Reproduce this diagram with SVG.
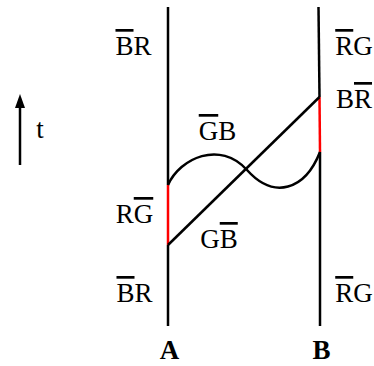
<svg xmlns="http://www.w3.org/2000/svg" width="374" height="366" viewBox="0 0 374 366">
<style>
.lbl{font-family:"Liberation Serif","DejaVu Serif",serif;font-size:27px;fill:#000;text-anchor:middle}
.bold{font-family:"Liberation Serif","DejaVu Serif",serif;font-size:27px;font-weight:bold;fill:#000;text-anchor:middle}
.ov{text-decoration:overline}
.wl{stroke:#000;stroke-width:2.5;fill:none}
.red{stroke:#ff0000;stroke-width:2.5;fill:none}
</style>
<rect width="374" height="366" fill="#fff"/>
<g id="connectors">
<line class="wl" x1="168" y1="7" x2="168" y2="185"/>
<line class="red" x1="168" y1="185" x2="168" y2="245"/>
<line class="wl" x1="168" y1="245" x2="168" y2="326"/>
<line class="wl" x1="318.5" y1="7" x2="319.5" y2="97"/>
<line class="red" x1="319.5" y1="97" x2="320" y2="152"/>
<line class="wl" x1="320" y1="152" x2="320" y2="326"/>
<line class="wl" x1="168" y1="245" x2="319.5" y2="97"/>
<path class="wl" d="M168,185 C180,158 220,140 247,170 C274,200 305,190 320,152"/>
<line x1="20" y1="165" x2="20" y2="106" stroke="#000" stroke-width="2.5"/>
<path d="M15,108 L20,94 L25,108 Z" fill="#000"/>
</g>
<g id="time"><text class="lbl" x="40" y="138">t</text></g>
<g id="A-top"><text class="lbl" x="133.5" y="55"><tspan class="ov">B</tspan>R</text></g>
<g id="B-top"><text class="lbl" x="354" y="55"><tspan class="ov">R</tspan>G</text></g>
<g id="GB-mid"><text class="lbl" x="217.5" y="140"><tspan class="ov">G</tspan>B</text></g>
<g id="GB-low"><text class="lbl" x="219" y="248">G<tspan class="ov">B</tspan></text></g>
<g id="RG-left"><text class="lbl" x="134.5" y="223">R<tspan class="ov">G</tspan></text></g>
<g id="BR-right"><text class="lbl" x="354" y="108">B<tspan class="ov">R</tspan></text></g>
<g id="A-bottom"><text class="lbl" x="134.5" y="302"><tspan class="ov">B</tspan>R</text></g>
<g id="B-bottom"><text class="lbl" x="354" y="302"><tspan class="ov">R</tspan>G</text></g>
<g id="label-A"><text class="bold" x="169.5" y="359">A</text></g>
<g id="label-B"><text class="bold" x="321.5" y="359">B</text></g>
</svg>
